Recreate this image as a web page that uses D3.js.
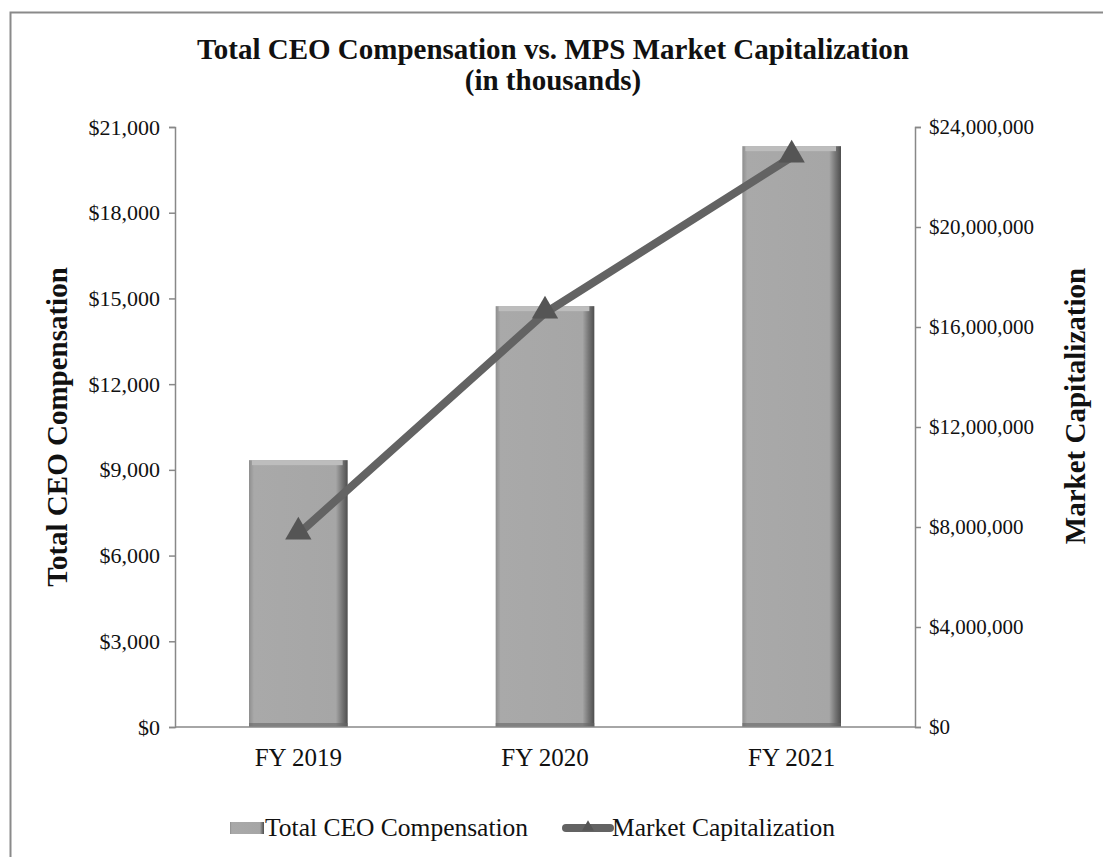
<!DOCTYPE html>
<html><head><meta charset="utf-8">
<script src="https://cdn.jsdelivr.net/npm/d3@7"></script>
<style>body{margin:0;background:#fff}</style>
</head><body>
<svg id="c" width="1103" height="857"></svg>
<script>
const categories = ["FY 2019", "FY 2020", "FY 2021"];
const compensation = [9340, 14730, 20330];
const marketCap = [7720000, 16560000, 22800000];
const leftTicks = [0, 3000, 6000, 9000, 12000, 15000, 18000, 21000];
const rightTicks = [0, 4000000, 8000000, 12000000, 16000000, 20000000, 24000000];

const svg = d3.select("#c");
const font = "'Liberation Serif','Times New Roman',serif";
const L = 175, R = 915, T = 127, B = 727;

svg.append("rect").attr("x", 10.5).attr("y", 12.5).attr("width", 1110).attr("height", 900)
  .attr("fill", "#fff").attr("stroke", "#8a8a8a").attr("stroke-width", 2);

const x = d3.scaleBand().domain(categories).range([L, R]).paddingInner(0.6).paddingOuter(0.3);
const yL = d3.scaleLinear().domain([0, 21000]).range([B, T]);
const yR = d3.scaleLinear().domain([0, 24000000]).range([B, T]);

const defs = svg.append("defs");
const g1 = defs.append("linearGradient").attr("id", "barH").attr("x1", 0).attr("x2", 1).attr("y1", 0).attr("y2", 0);
g1.append("stop").attr("offset", "0").attr("stop-color", "#8e8e8e");
g1.append("stop").attr("offset", "0.05").attr("stop-color", "#a9a9a9");
g1.append("stop").attr("offset", "0.88").attr("stop-color", "#a6a6a6");
g1.append("stop").attr("offset", "0.94").attr("stop-color", "#787878");
g1.append("stop").attr("offset", "1").attr("stop-color", "#4e4e4e");

// bars
const bars = svg.append("g");
categories.forEach((c, i) => {
  const bx = x(c), bw = x.bandwidth(), by = yL(compensation[i]), bh = B - by;
  bars.append("rect").attr("x", bx).attr("y", by).attr("width", bw).attr("height", bh)
    .attr("fill", "url(#barH)");
  bars.append("rect").attr("x", bx + 3).attr("y", by).attr("width", bw - 8).attr("height", 5)
    .attr("fill", "#bdbdbd");
  bars.append("rect").attr("x", bx).attr("y", B - 4).attr("width", bw).attr("height", 4)
    .attr("fill", "#666").attr("opacity", 0.6);
});

// axes
const axisColor = "#888";
const fmt = d => "$" + d3.format(",")(d);
const gl = svg.append("g").attr("transform", `translate(${L},0)`)
  .call(d3.axisLeft(yL).tickValues(leftTicks).tickSize(6).tickPadding(9).tickFormat(fmt));
const gr = svg.append("g").attr("transform", `translate(${R},0)`)
  .call(d3.axisRight(yR).tickValues(rightTicks).tickSize(6).tickPadding(8).tickFormat(fmt));
const gb = svg.append("g").attr("transform", `translate(0,${B})`)
  .call(d3.axisBottom(x).tickSize(0).tickPadding(21));
[gl, gr, gb].forEach(g => {
  g.selectAll("path,line").attr("stroke", axisColor).attr("stroke-width", 1.5);
  g.selectAll("text").attr("font-family", font).attr("fill", "#111");
});
gl.selectAll("text").attr("font-size", 22);
gr.selectAll("text").attr("font-size", 21);
gb.selectAll("text").attr("font-size", 25);
gb.select("path").attr("d", `M${L},0H${R}`);

// line
const pts = categories.map((c, i) => [x(c) + x.bandwidth() / 2, yR(marketCap[i])]);
svg.append("path").attr("d", d3.line()(pts)).attr("fill", "none")
  .attr("stroke", "#636363").attr("stroke-width", 8).attr("stroke-linecap", "round");
const tri = d3.symbol().type(d3.symbolTriangle).size(300);
pts.forEach(p => {
  svg.append("path").attr("d", tri()).attr("transform", `translate(${p[0]},${p[1] - 2})`)
    .attr("fill", "#555");
});

// titles
svg.append("text").attr("x", 553).attr("y", 59).attr("text-anchor", "middle")
  .attr("font-family", font).attr("font-weight", "bold").attr("font-size", 29).attr("fill", "#111")
  .text("Total CEO Compensation vs. MPS Market Capitalization");
svg.append("text").attr("x", 553).attr("y", 90).attr("text-anchor", "middle")
  .attr("font-family", font).attr("font-weight", "bold").attr("font-size", 29).attr("fill", "#111")
  .text("(in thousands)");
svg.append("text").attr("transform", "translate(67,427) rotate(-90)").attr("text-anchor", "middle")
  .attr("font-family", font).attr("font-weight", "bold").attr("font-size", 29).attr("fill", "#111")
  .text("Total CEO Compensation");
svg.append("text").attr("transform", "translate(1085,406) rotate(-90)").attr("text-anchor", "middle")
  .attr("font-family", font).attr("font-weight", "bold").attr("font-size", 29).attr("fill", "#111")
  .text("Market Capitalization");

// legend
const lg = svg.append("g");
lg.append("rect").attr("x", 230).attr("y", 822).attr("width", 34).attr("height", 12).attr("fill", "url(#barH)");
lg.append("text").attr("x", 265).attr("y", 836).attr("font-family", font).attr("font-size", 25.5).attr("fill", "#111")
  .text("Total CEO Compensation");
lg.append("line").attr("x1", 566).attr("x2", 610).attr("y1", 828).attr("y2", 828)
  .attr("stroke", "#636363").attr("stroke-width", 8).attr("stroke-linecap", "round");
lg.append("path").attr("d", d3.symbol().type(d3.symbolTriangle).size(60)()).attr("transform", "translate(588,827)").attr("fill", "#555");
lg.append("text").attr("x", 612).attr("y", 836).attr("font-family", font).attr("font-size", 25.5).attr("fill", "#111")
  .text("Market Capitalization");
</script>
</body></html>
